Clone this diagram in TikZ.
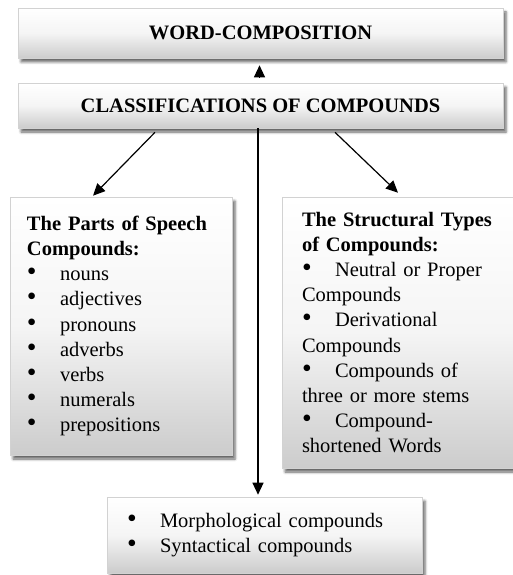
\documentclass[tikz,border=0pt]{standalone}
\usepackage{fontspec}
\setmainfont{Liberation Serif}
\usetikzlibrary{arrows.meta,shadows.blur}
\newcommand{\itm}[1]{\makebox[33pt][l]{\scalebox{1.35}{\textbullet}}#1}
\tikzset{
    box/.style={draw=gray!35, line width=0.6pt, top color=white, bottom color=gray!40, middle color=gray!8,
        blur shadow={shadow xshift=3pt, shadow yshift=-4pt, shadow blur radius=2.5pt, shadow opacity=60},
        font=\fontsize{20.5}{25.2}\selectfont, inner ysep=0pt},
    arr/.style={line width=1.2pt, -{Triangle[length=12pt, width=11pt]}}
}
\begin{document}
\begin{tikzpicture}[x=1pt, y=-1pt]
            \useasboundingbox (0, 0) rectangle (513, 575);
            \clip (0, 0) rectangle (513, 575);

            \node[box, minimum width=485pt, minimum height=50pt] (W) at (260.5, 33) { \textbf{WORD-COMPOSITION} };
            \node[box, minimum width=485pt, minimum height=45pt] (C) at (260.5, 105.5) { \textbf{CLASSIFICATIONS OF COMPOUNDS} };

            \node[box, text width=188pt, inner xsep=17pt, minimum height=258pt, align=left] (P) at (121, 326)
                { \textbf{The Parts of Speech}\\ \textbf{Compounds:}\\ \itm{nouns}\\ \itm{adjectives}\\ \itm{pronouns}\\
                  \itm{adverbs}\\ \itm{verbs}\\ \itm{numerals}\\ \itm{prepositions} };
            \node[box, text width=198pt, inner xsep=20pt, minimum height=271pt, align=left] (S) at (401, 332.5)
                { \textbf{The Structural Types}\\ \textbf{of Compounds:}\\ \itm{Neutral or Proper}\\ Compounds\\
                  \itm{Derivational}\\ Compounds\\ \itm{Compounds of}\\ three or more stems\\ \itm{Compound-}\\ shortened Words };
            \node[box, text width=275pt, inner xsep=20pt, minimum height=76pt, align=left] (M) at (264.5, 535)
                { \itm{Morphological compounds}\\ \itm{Syntactical compounds} };

            \draw[arr, shorten <=6pt, shorten >=7pt] ([xshift=-1pt]C.north) -- ([xshift=-1pt]W.south);
            \draw[arr] ([xshift=-105.5pt, yshift=-4pt]C.south) -- ([xshift=-28pt, yshift=1pt]P.north);
            \draw[arr] ([xshift=74.5pt, yshift=-4pt]C.south) -- ([xshift=-3pt, yshift=4pt]S.north);
            \draw[arr] ([xshift=-2.5pt]C.south) -- ([xshift=-6.5pt, yshift=2pt]M.north);
\end{tikzpicture}
\end{document}
